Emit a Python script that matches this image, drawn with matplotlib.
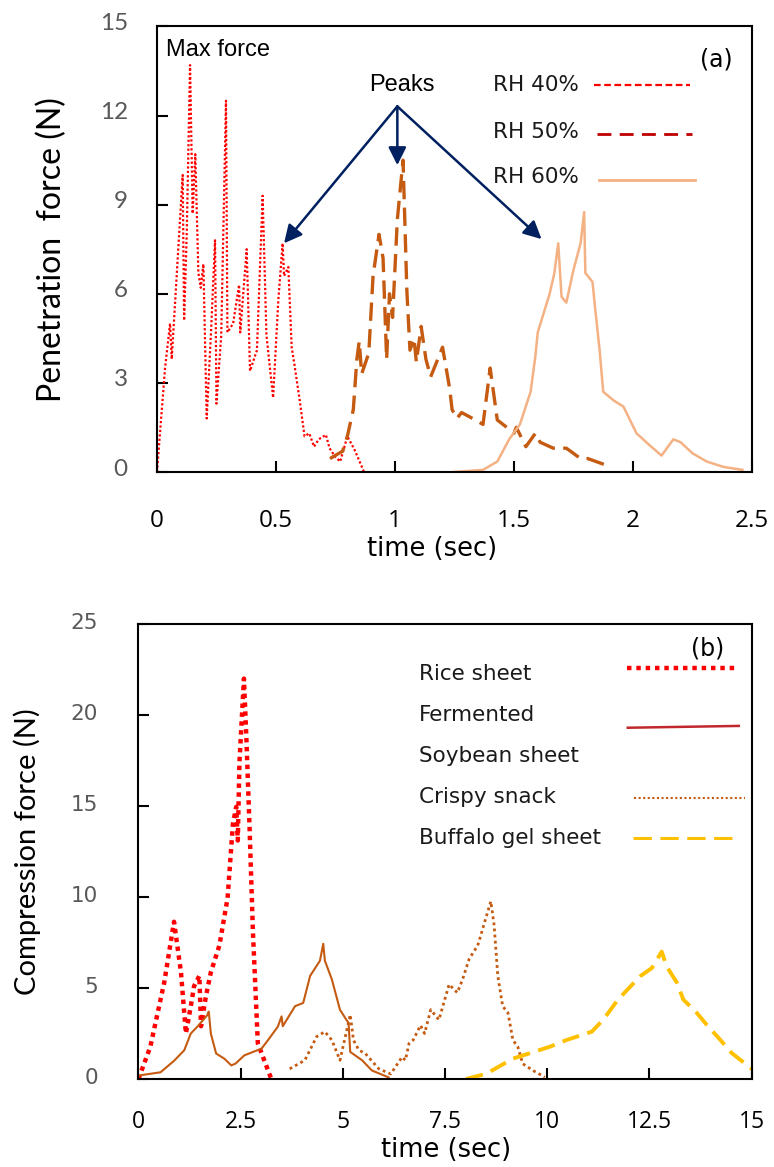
"""
Penetration / compression force curves, panels (a) and (b)
"""
import numpy as np
import matplotlib
matplotlib.use('Agg')
import matplotlib.pyplot as plt
import matplotlib.transforms as mtransforms

# %% -------------------------------------------------------------------------
# DATA  (a) penetration force vs time
# ----------------------------------------------------------------------------
t_rh40 = [0.0, 0.034, 0.055, 0.062, 0.108, 0.114, 0.125, 0.139, 0.15, 0.161, 0.174,
          0.184, 0.195, 0.209, 0.227, 0.244, 0.25, 0.27, 0.29, 0.296, 0.32, 0.345,
          0.35, 0.377, 0.391, 0.42, 0.444, 0.46, 0.488, 0.51, 0.528, 0.534, 0.552,
          0.566, 0.576, 0.60, 0.62, 0.64, 0.66, 0.68, 0.71, 0.725, 0.75, 0.77,
          0.80, 0.83, 0.87]
f_rh40 = [0.0, 3.5, 5.0, 3.8, 10.0, 5.1, 8.0, 13.7, 8.7, 10.7, 6.7,
          6.2, 7.0, 1.8, 4.7, 7.8, 2.3, 4.6, 12.5, 4.7, 5.0, 6.3,
          4.7, 7.5, 3.4, 4.1, 9.3, 4.6, 2.5, 5.8, 7.7, 6.6, 6.9,
          4.2, 3.7, 2.4, 1.2, 1.3, 0.85, 1.1, 1.25, 0.8, 0.5, 0.35,
          1.2, 0.75, 0.0]

t_rh50 = [0.727, 0.78, 0.80, 0.825, 0.84, 0.85, 0.86, 0.89, 0.908, 0.933, 0.95,
          0.965, 0.977, 0.99, 1.01, 1.034, 1.05, 1.063, 1.08, 1.09, 1.11, 1.13,
          1.15, 1.17, 1.20, 1.23, 1.24, 1.26, 1.28, 1.315, 1.37, 1.40, 1.43,
          1.47, 1.50, 1.51, 1.55, 1.59, 1.61, 1.665, 1.72, 1.78, 1.81, 1.88]
f_rh50 = [0.45, 0.7, 1.2, 2.1, 3.8, 4.4, 3.3, 4.0, 6.6, 8.0, 7.2,
          3.8, 6.0, 5.2, 8.5, 10.5, 6.1, 4.1, 4.5, 3.7, 4.9, 3.8,
          3.2, 3.6, 4.2, 2.8, 2.1, 1.8, 2.0, 1.85, 1.6, 3.5, 1.75,
          1.5, 1.3, 1.5, 0.85, 1.3, 1.0, 0.8, 0.8, 0.45, 0.45, 0.25]

t_rh60 = [1.25, 1.37, 1.43, 1.48, 1.525, 1.57, 1.59, 1.60, 1.65, 1.67, 1.686,
          1.70, 1.72, 1.75, 1.78, 1.795, 1.80, 1.83, 1.84, 1.86, 1.875, 1.92,
          1.96, 2.015, 2.07, 2.12, 2.17, 2.20, 2.25, 2.31, 2.38, 2.46]
f_rh60 = [0.0, 0.07, 0.35, 1.1, 1.6, 2.7, 3.9, 4.7, 6.0, 6.7, 7.7,
          5.9, 5.7, 6.8, 7.7, 8.75, 6.7, 6.4, 5.6, 4.1, 2.7, 2.4,
          2.2, 1.3, 0.9, 0.55, 1.1, 1.0, 0.63, 0.35, 0.17, 0.07]

# arrows: one origin under "Peaks", tips on the three peaks
PEAK_FROM = (1.01, 12.31)
PEAK_TIPS = [(0.534, 7.70), (1.01, 10.33), (1.616, 7.84)]

# %% -------------------------------------------------------------------------
# DATA  (b) compression force vs time
# ----------------------------------------------------------------------------
t_rice = [0.0, 0.29, 0.63, 0.87, 1.04, 1.16, 1.28, 1.36, 1.49, 1.53, 1.65, 1.77,
          1.98, 2.18, 2.31, 2.39, 2.43, 2.47, 2.58, 2.64, 2.72, 2.80, 2.92, 3.25]
f_rice = [0.0, 1.77, 5.3, 8.64, 5.86, 2.5, 4.0, 5.1, 5.67, 2.9, 4.55, 5.86,
          7.34, 9.94, 14.0, 14.95, 13.1, 17.4, 22.0, 18.7, 13.65, 8.08, 1.96, 0.0]

t_ferm = [0.0, 0.54, 0.87, 1.12, 1.28, 1.45, 1.68, 1.72, 1.77, 1.90, 2.10, 2.27,
          2.37, 2.59, 3.01, 3.17, 3.41, 3.50, 3.53, 3.83, 4.03, 4.20, 4.44, 4.52,
          4.56, 4.73, 4.93, 5.14, 5.18, 5.47, 5.71, 6.12]
f_ferm = [0.19, 0.37, 1.0, 1.58, 2.5, 2.9, 3.5, 3.7, 2.5, 1.4, 1.12, 0.75,
          0.84, 1.3, 1.67, 2.14, 2.88, 3.44, 2.9, 4.0, 4.18, 5.67, 6.5, 7.43,
          6.5, 5.48, 3.8, 3.07, 1.49, 1.03, 0.47, 0.09]

t_crispy = [3.70, 4.07, 4.36, 4.56, 4.73, 4.93, 5.06, 5.18, 5.26, 5.39, 5.55, 5.88,
            6.17, 6.45, 6.53, 6.62, 6.72, 6.90, 7.00, 7.15, 7.35, 7.60, 7.80, 7.93,
            8.09, 8.30, 8.62, 8.70, 8.79, 8.91, 9.04, 9.16, 9.28, 9.40, 9.65, 9.94]
f_crispy = [0.56, 1.03, 2.33, 2.6, 2.14, 1.03, 2.33, 3.53, 2.14, 1.59, 1.4, 0.56,
            0.28, 1.21, 1.03, 1.96, 2.14, 2.95, 2.5, 3.81, 3.25, 5.2, 4.74, 5.48,
            6.6, 7.34, 9.76, 8.46, 5.67, 4.0, 3.63, 2.14, 1.77, 0.84, 0.47, 0.1]

t_buff = [8.01, 8.50, 9.16, 10.06, 10.47, 11.09, 11.37, 11.73, 12.27, 12.56,
          12.80, 12.92, 13.17, 13.33, 13.66, 13.90, 14.23, 14.51, 14.72, 15.13]
f_buff = [0.0, 0.28, 1.12, 1.77, 2.14, 2.6, 3.26, 4.36, 5.64, 6.1,
          7.0, 6.19, 5.3, 4.36, 3.63, 2.98, 2.16, 1.43, 1.06, 0.33]

A_XTICKS = [0, 0.5, 1, 1.5, 2, 2.5]
A_XLABELS = ['0', '0.5', '1', '1.5', '2', '2.5']
A_YTICKS = [0, 3, 6, 9, 12, 15]
B_XTICKS = [0, 2.5, 5, 7.5, 10, 12.5, 15]
B_XLABELS = ['0', '2.5', '5', '7.5', '10', '12.5', '15']
B_YTICKS = [0, 5, 10, 15, 20, 25]

# colours
RED = '#ff0000'
BROWN = '#c55a11'
PEACH = '#f4b183'
NAVY = '#002060'
GOLD = '#ffc000'
GREY = '#595959'

# %% -------------------------------------------------------------------------
# FIGURE
# ----------------------------------------------------------------------------
fig = plt.figure(figsize=(7.74, 11.67), dpi=100)
ax1 = fig.add_axes([0.2028, 0.5956, 0.7687, 0.3817])
ax2 = fig.add_axes([0.1789, 0.0754, 0.7922, 0.3899])

for ax in (ax1, ax2):
    for sp in ax.spines.values():
        sp.set_linewidth(1.5)
        sp.set_color('black')
    ax.tick_params(direction='in', length=8, width=1.5, top=False, right=False)

# ------------------------------- panel (a) ----------------------------------
ax1.plot(t_rh40, f_rh40, color=RED, lw=1.6, linestyle=(0, (1, 1)))
ax1.plot(t_rh50, f_rh50, color=BROWN, lw=2.4, linestyle=(0, (5.5, 2.5)))
ax1.plot(t_rh60, f_rh60, color=PEACH, lw=1.8)

ax1.set_xlim(0, 2.5)
ax1.set_ylim(0, 15)
ax1.set_xticks(A_XTICKS)
ax1.set_xticklabels(A_XLABELS, family='Open Sans', fontsize=17.5, color='black')
ax1.set_yticks(A_YTICKS)
ax1.set_yticklabels([str(v) for v in A_YTICKS], family='Lato', fontsize=17.5, color=GREY)
ax1.tick_params(axis='x', pad=27)
ax1.tick_params(axis='y', pad=21)
off = mtransforms.ScaledTranslation(0, 3.5 / 72, fig.dpi_scale_trans)
for lab in ax1.get_yticklabels():
    lab.set_transform(lab.get_transform() + off)

ax1.set_xlabel('time (sec)', family='DejaVu Sans', fontsize=18.5)
ax1.xaxis.set_label_coords(0.462, -0.144)
ax1.set_ylabel('Penetration  force (N)', family='Lato', fontsize=23)
ax1.yaxis.label.set_va('center')
ax1.yaxis.set_label_coords(-0.176, 0.50)

# arrows to the peaks
for tip in PEAK_TIPS:
    ax1.annotate('', xy=tip, xytext=PEAK_FROM,
                 arrowprops=dict(arrowstyle='-|>,head_length=0.6,head_width=0.3',
                                 color=NAVY, lw=1.8, mutation_scale=18,
                                 shrinkA=0, shrinkB=0))
ax1.text(1.028, 13.02, 'Peaks', family='Liberation Sans', fontsize=17,
         ha='center', va='center')
ax1.text(0.0151, 0.947, 'Max force', family='Liberation Sans', fontsize=17,
         ha='left', va='center', transform=ax1.transAxes)
ax1.text(0.9407, 0.925, '(a)', family='DejaVu Sans', fontsize=17,
         ha='center', va='center', transform=ax1.transAxes)

# hand-made legend
ax1.text(0.564, 0.869, 'RH 40%', family='DejaVu Sans', fontsize=15.5, color='#1a1a1a',
         ha='left', va='center', transform=ax1.transAxes)
ax1.text(0.564, 0.764, 'RH 50%', family='DejaVu Sans', fontsize=15.5, color='#1a1a1a',
         ha='left', va='center', transform=ax1.transAxes)
ax1.text(0.564, 0.663, 'RH 60%', family='DejaVu Sans', fontsize=15.5, color='#1a1a1a',
         ha='left', va='center', transform=ax1.transAxes)
ax1.plot([0.734, 0.896], [0.869, 0.869], transform=ax1.transAxes,
         color=RED, lw=1.6, linestyle=(0, (3, 1.6)))
ax1.plot([0.7395, 0.900], [0.759, 0.759], transform=ax1.transAxes,
         color='#c00000', lw=2.0, linestyle=(0, (5, 3)))
ax1.plot([0.743, 0.904], [0.655, 0.655], transform=ax1.transAxes,
         color=PEACH, lw=2.0)

# ------------------------------- panel (b) ----------------------------------
ax2.plot(t_rice, f_rice, color=RED, lw=3.2, linestyle=(0, (1, 1)),
         dash_capstyle='butt')
ax2.plot(t_ferm, f_ferm, color=BROWN, lw=1.5)
ax2.plot(t_crispy, f_crispy, color=BROWN, lw=2.0, linestyle=(0, (1, 1.2)))
ax2.plot(t_buff, f_buff, color=GOLD, lw=2.8, linestyle=(0, (4.5, 2.2)))

ax2.set_xlim(0, 15)
ax2.set_ylim(0, 25)
ax2.set_xticks(B_XTICKS)
ax2.set_xticklabels(B_XLABELS, family='Open Sans', fontsize=16.5, color='black')
ax2.set_yticks(B_YTICKS)
ax2.set_yticklabels([str(v) for v in B_YTICKS], family='DejaVu Sans', fontsize=15.5,
                    color=GREY)
ax2.tick_params(axis='x', pad=22.5)
ax2.tick_params(axis='y', pad=29)
off2 = mtransforms.ScaledTranslation(0, 2 / 72, fig.dpi_scale_trans)
for lab in ax2.get_yticklabels():
    lab.set_transform(lab.get_transform() + off2)

ax2.set_xlabel('time (sec)', family='DejaVu Sans', fontsize=18.5)
ax2.xaxis.set_label_coords(0.502, -0.128)
ax2.set_ylabel('Compression force (N)', family='Lato', fontsize=21)
ax2.yaxis.label.set_va('center')
ax2.yaxis.set_label_coords(-0.182, 0.50)

ax2.text(0.9287, 0.947, '(b)', family='DejaVu Sans', fontsize=17,
         ha='center', va='center', transform=ax2.transAxes)
names_b = ['Rice sheet', 'Fermented', 'Soybean sheet', 'Crispy snack', 'Buffalo gel sheet']
rows_b = [0.890, 0.800, 0.710, 0.620, 0.530]
for name, yy in zip(names_b, rows_b):
    ax2.text(0.457, yy, name, family='DejaVu Sans', fontsize=15.5, color='#1a1a1a',
             ha='left', va='center', transform=ax2.transAxes)
ax2.plot([0.796, 0.973], [0.904, 0.904], transform=ax2.transAxes,
         color=RED, lw=3.2, linestyle=(0, (1, 1.1)), dash_capstyle='butt')
ax2.plot([0.798, 0.979], [0.772, 0.776], transform=ax2.transAxes,
         color='#c0282d', lw=1.8)
ax2.plot([0.808, 0.989], [0.618, 0.618], transform=ax2.transAxes,
         color=BROWN, lw=1.5, linestyle=(0, (1, 1.2)))
ax2.plot([0.806, 0.977], [0.530, 0.530], transform=ax2.transAxes,
         color=GOLD, lw=2.2, linestyle=(0, (6, 2.8)))

fig.savefig('out.png', dpi=100)
